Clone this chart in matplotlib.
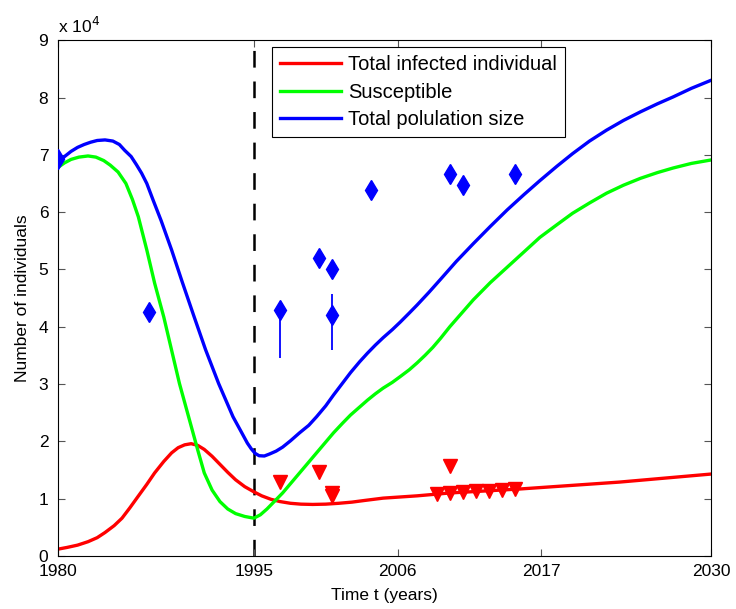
import numpy as np
import matplotlib
matplotlib.use("Agg")
import matplotlib.pyplot as plt

plt.rcParams['font.family'] = ['Liberation Sans', 'DejaVu Sans']
plt.rcParams['lines.scale_dashes'] = False

# model curves (years, individuals / 1e4)
blue_t = [1980, 1980.5, 1981, 1981.5, 1982, 1982.5, 1983, 1983.6, 1984.2, 1984.7,
          1985.1, 1985.6, 1986.0, 1986.4, 1986.8, 1987.3, 1987.9, 1988.7, 1989.5, 1990.4,
          1991.3, 1992.3, 1993.4, 1994.0, 1994.5, 1994.8, 1995.1, 1995.4, 1995.8, 1996.2,
          1996.7, 1997.2, 1997.8, 1998.5, 1999.2, 1999.8, 2000.5, 2001.1, 2001.8, 2002.4,
          2003.1, 2003.7, 2004.3, 2004.9, 2005.6, 2006.2, 2006.9, 2007.5, 2008.4, 2009.3,
          2010.5, 2011.8, 2013.1, 2014.4, 2015.7, 2016.9, 2018.2, 2019.4, 2020.7, 2022,
          2023.3, 2024.6, 2025.9, 2027.1, 2028.5, 2030]
blue_v = [6.85, 6.97, 7.06, 7.13, 7.18, 7.22, 7.25, 7.26, 7.24, 7.18,
          7.08, 6.97, 6.83, 6.68, 6.50, 6.20, 5.85, 5.34, 4.79, 4.19,
          3.60, 3.01, 2.43, 2.18, 1.97, 1.87, 1.79, 1.75, 1.745, 1.78,
          1.83, 1.90, 2.01, 2.15, 2.28, 2.43, 2.62, 2.81, 3.02, 3.20,
          3.39, 3.54, 3.68, 3.81, 3.95, 4.08, 4.24, 4.38, 4.60, 4.83,
          5.14, 5.45, 5.75, 6.04, 6.31, 6.55, 6.80, 7.02, 7.24, 7.43,
          7.60, 7.75, 7.89, 8.01, 8.16, 8.30]

green_t = [1980, 1980.5, 1981, 1981.6, 1982.3, 1982.9, 1983.5, 1984.0, 1984.6, 1985.2,
           1985.7, 1986.15, 1986.8, 1987.4, 1988.1, 1988.7, 1989.3, 1990.0, 1990.7, 1991.2,
           1991.8, 1992.4, 1993, 1993.6, 1994.3, 1995, 1995.5, 1996, 1996.6, 1997.2,
           1998.5, 1999.8, 2001.1, 2001.8, 2002.4, 2003.1, 2003.7, 2004.3, 2004.9, 2005.6,
           2006.2, 2006.9, 2007.5, 2008.1, 2008.7, 2009.3, 2010, 2011.8, 2013.1, 2014.4,
           2015.7, 2016.9, 2018.2, 2019.4, 2020.7, 2022, 2023.3, 2024.6, 2025.9, 2027.1,
           2028.5, 2030]
green_v = [6.78, 6.86, 6.92, 6.96, 6.98, 6.96, 6.90, 6.82, 6.70, 6.50,
           6.22, 5.92, 5.34, 4.76, 4.17, 3.59, 3.01, 2.43, 1.85, 1.45,
           1.15, 0.95, 0.82, 0.74, 0.69, 0.66, 0.72, 0.82, 0.96, 1.10,
           1.45, 1.80, 2.15, 2.32, 2.46, 2.60, 2.72, 2.83, 2.93, 3.03,
           3.13, 3.25, 3.37, 3.50, 3.64, 3.80, 4.00, 4.47, 4.77, 5.04,
           5.31, 5.56, 5.78, 5.98, 6.16, 6.33, 6.47, 6.59, 6.69, 6.77,
           6.85, 6.91]

red_t = [1980, 1980.7, 1981.5, 1982.3, 1983, 1983.6, 1984.3, 1984.9, 1985.5, 1986.1,
         1986.8, 1987.4, 1988.1, 1988.7, 1989.2, 1989.7, 1990.2, 1990.7, 1991.2, 1991.8,
         1992.4, 1993, 1993.6, 1994.3, 1995, 1995.6, 1996.3, 1997, 1997.8, 1998.6,
         1999.5, 2000.5, 2001.5, 2002.5, 2003.5, 2004.9, 2006.2, 2007.5, 2010, 2015.4,
         2023, 2030]
red_v = [0.12, 0.15, 0.19, 0.25, 0.32, 0.41, 0.53, 0.66, 0.84, 1.03,
         1.25, 1.45, 1.65, 1.80, 1.89, 1.94, 1.96, 1.93, 1.86, 1.74,
         1.60, 1.46, 1.33, 1.21, 1.12, 1.05, 0.99, 0.95, 0.92, 0.905,
         0.90, 0.905, 0.92, 0.94, 0.97, 1.01, 1.03, 1.05, 1.10, 1.17,
         1.29, 1.43]

# observed data
pop_obs_t = [1980, 1987, 1997, 2000, 2001, 2001, 2004, 2010, 2011, 2015]
pop_obs_v = [69200, 42500, 43000, 52000, 50000, 42000, 63800, 66600, 64800, 66600]
pop_err_lo = [0, 0, 8400, 0, 0, 6100, 0, 0, 0, 0]
pop_err_hi = [0, 0, 0, 0, 0, 3800, 0, 0, 0, 0]

inf_obs_t = [1997, 2000, 2001, 2001, 2010, 2009, 2010, 2011, 2012, 2013, 2014, 2015]
inf_obs_v = [12900, 14700, 10500, 11000, 15700, 10800, 11000, 11100, 11300, 11400, 11600, 11700]

xticks = [1980, 1995, 2006, 2017, 2030]
yticks = [0, 1, 2, 3, 4, 5, 6, 7, 8, 9]

fig = plt.figure(figsize=(7.36, 6.09), dpi=100)
ax = fig.add_axes([0.0788, 0.087, 0.8872, 0.847])

scale = 1e4
l1, = ax.plot(red_t, np.array(red_v) * scale, color=(1, 0, 0), lw=2.4,
              label='Total infected individual')
l2, = ax.plot(green_t, np.array(green_v) * scale, color=(0, 1, 0), lw=2.4,
              label='Susceptible')
l3, = ax.plot(blue_t, np.array(blue_v) * scale, color=(0, 0, 1), lw=2.4,
              label='Total polulation size')

ax.errorbar(pop_obs_t, pop_obs_v, yerr=[pop_err_lo, pop_err_hi], fmt='d',
            color=(0, 0, 1), ms=10, elinewidth=1.3, capsize=0, zorder=4)
ax.plot(inf_obs_t, inf_obs_v, 'v', color=(1, 0, 0), ms=10, zorder=4)

ax.axvline(1995, color='k', lw=1.8, linestyle=(0, (12, 10)), zorder=1)

ax.set_xlim(1980, 2030)
ax.set_ylim(0, 9 * scale)
ax.set_xticks(xticks)
ax.set_yticks(np.array(yticks) * scale)
ax.set_yticklabels([str(v) for v in yticks])
ax.tick_params(direction='in', top=True, right=True, length=5, labelsize=12.5,
               color='#555555')
ax.tick_params(axis='x', pad=6)
ax.tick_params(axis='y', pad=7)
ax.text(0, 1.008, r'x 10$^4$', transform=ax.transAxes, ha='left', va='bottom',
        fontsize=12.5)

ax.set_xlabel('Time t (years)', fontsize=12.5, labelpad=6)
ax.set_ylabel('Number of individuals', fontsize=12.5, labelpad=6)

leg = ax.legend(handles=[l1, l2, l3], loc='upper left',
                bbox_to_anchor=(0.328, 0.986), borderaxespad=0, fontsize=14.5,
                handlelength=3.0, handletextpad=0.35, labelspacing=0.42,
                borderpad=0.4, fancybox=False, edgecolor='k', framealpha=1)
leg.get_frame().set_linewidth(0.8)

fig.savefig('out.png', dpi=100)
